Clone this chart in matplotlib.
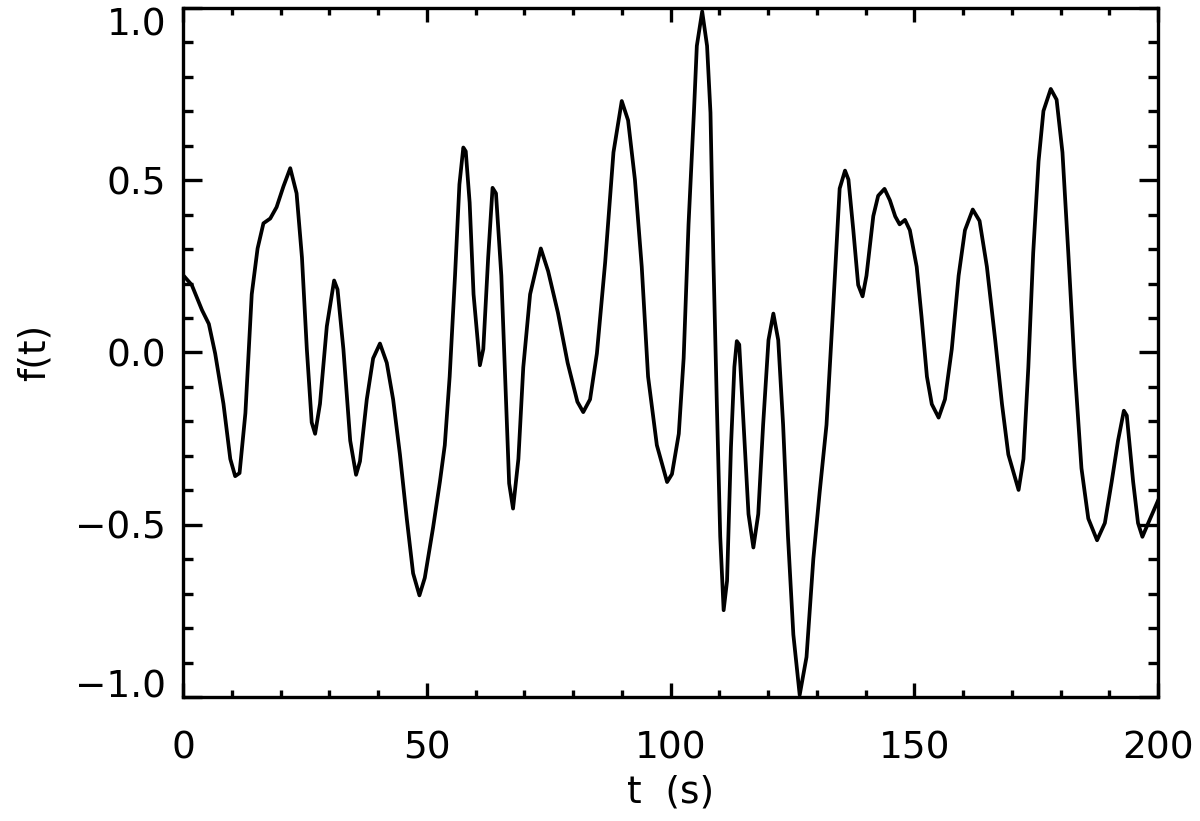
import numpy as np
import matplotlib
matplotlib.use("Agg")
import matplotlib.pyplot as plt
from matplotlib.ticker import MultipleLocator, FixedFormatter, FixedLocator

# values
t = [0.0, 1.8, 3.9, 5.3, 6.6, 8.3, 9.7, 10.7, 11.6, 12.8, 14.1, 15.3, 16.5,
     17.9, 19.2, 20.6, 22.0, 23.3, 24.4, 25.4, 26.4, 27.1, 28.1, 29.5, 31.0,
     31.7, 32.9, 34.3, 35.5, 36.3, 37.7, 39.0, 40.4, 41.8, 43.1, 44.5, 45.9,
     47.2, 48.5, 49.6, 51.3, 52.7, 53.7, 54.7, 55.8, 56.7, 57.5, 58.0, 58.8,
     59.6, 60.9, 61.6, 62.6, 63.5, 64.2, 65.3, 66.0, 66.9, 67.7, 68.8, 69.8,
     71.2, 73.4, 74.9, 76.9, 78.9, 80.9, 82.1, 83.5, 84.9, 86.6, 88.3, 90.0,
     91.3, 92.7, 94.1, 95.4, 97.2, 99.3, 100.3, 101.7, 102.7, 103.7, 104.8,
     105.4, 106.5, 107.5, 108.2, 108.8, 109.5, 110.2, 110.9, 111.6, 112.4,
     113.1, 113.6, 114.1, 115.0, 116.0, 117.0, 118.0, 119.0, 120.1, 121.1,
     122.1, 123.1, 124.1, 125.2, 126.5, 127.9, 129.3, 130.6, 132.0, 133.3,
     134.7, 135.8, 136.5, 137.5, 138.5, 139.4,
     140.2, 141.6, 142.6, 143.9, 145.0, 146.1, 147.0, 148.1, 149.1, 150.5,
     151.5, 152.6, 153.6, 155.0, 156.3, 157.7, 159.1, 160.4, 162.0, 163.4,
     164.9, 166.6, 168.0, 169.3, 171.4, 172.4, 173.4, 174.4, 175.5, 176.5,
     178.0, 179.2, 180.4, 181.6, 182.9, 184.3, 185.7, 187.5, 189.1, 190.5,
     191.8, 193.0, 193.6, 194.9, 195.9, 196.8, 198.0, 200.0]
f = [0.225, 0.196, 0.123, 0.083, -0.003, -0.149, -0.309, -0.359, -0.35,
     -0.176, 0.169, 0.302, 0.375, 0.389, 0.422, 0.482, 0.535, 0.462, 0.276,
     0.010, -0.203, -0.236, -0.149, 0.076, 0.209, 0.183, 0.010, -0.256,
     -0.355, -0.316, -0.136, -0.017, 0.026, -0.030, -0.136, -0.296, -0.482,
     -0.641, -0.705, -0.654, -0.508, -0.375, -0.269, -0.070, 0.223, 0.488,
     0.595, 0.584, 0.435, 0.169, -0.037, 0.010, 0.276, 0.478, 0.462, 0.223,
     -0.043, -0.38, -0.453, -0.309, -0.043, 0.169, 0.302, 0.236, 0.116,
     -0.030, -0.143, -0.173, -0.136, -0.003, 0.262, 0.581, 0.730, 0.674,
     0.502, 0.249, -0.070, -0.269, -0.376, -0.353, -0.236, -0.016, 0.372,
     0.696, 0.89, 0.99, 0.89, 0.696, 0.269, -0.146, -0.534, -0.748, -0.663,
     -0.275, -0.042, 0.033, 0.023, -0.210, -0.469, -0.566, -0.469, -0.210,
     0.036, 0.113, 0.036, -0.210, -0.534, -0.819, -0.994, -0.884, -0.599,
     -0.405, -0.210, 0.113, 0.476, 0.528,
     0.502, 0.355, 0.196, 0.163, 0.223, 0.396, 0.455, 0.475, 0.442, 0.395,
     0.372, 0.385, 0.355, 0.249, 0.103, -0.070, -0.150, -0.189, -0.136,
     0.010, 0.223, 0.355, 0.415, 0.382, 0.249, 0.037, -0.150, -0.296,
     -0.399, -0.309, -0.043, 0.289, 0.555, 0.701, 0.765, 0.734, 0.581,
     0.289, -0.043, -0.336, -0.482, -0.545, -0.495, -0.375, -0.256, -0.169,
     -0.183, -0.375, -0.495, -0.535, -0.495, -0.43]

xticks = [0, 50, 100, 150, 200]
xticklabels = ["0", "50", "100", "150", "200"]
yticks = [-1.0, -0.5, 0.0, 0.5, 1.0]
yticklabels = ["\u22121.0", "\u22120.5", "0.0", "0.5", "1.0"]

plt.rcParams['font.family'] = ['DejaVu Sans']
fs = 27

fig = plt.figure(figsize=(12, 8.21), dpi=100)
ax = fig.add_axes([183/1200, 1 - 697/821, 975/1200, 689/821])

ax.plot(t, f, color='black', lw=2.7, solid_joinstyle='round')

ax.set_xlim(0, 200)
ax.set_ylim(-1.0, 1.0)
ax.xaxis.set_major_locator(FixedLocator(xticks))
ax.xaxis.set_major_formatter(FixedFormatter(xticklabels))
ax.xaxis.set_minor_locator(MultipleLocator(10))
ax.yaxis.set_major_locator(FixedLocator(yticks))
ax.yaxis.set_major_formatter(FixedFormatter(yticklabels))
ax.yaxis.set_minor_locator(MultipleLocator(0.1))

for s in ax.spines.values():
    s.set_linewidth(2.4)

ax.tick_params(axis='both', which='both', direction='in', width=2.4,
               top=True, right=True, labelsize=fs, colors='black')
ax.tick_params(axis='x', which='major', length=10, pad=24)
ax.tick_params(axis='x', which='minor', length=5)
ax.tick_params(axis='y', which='major', length=14, pad=12)
ax.tick_params(axis='y', which='minor', length=7)

# keep the end labels inside the frame, like the reference
fig.canvas.draw()
ylabs = ax.get_yticklabels()
ylabs[0].set_verticalalignment('baseline')
ylabs[-1].set_verticalalignment('top')

ax.set_xlabel("t  (s)", fontsize=fs)
ax.xaxis.set_label_coords(0.5, -0.112)
ax.set_ylabel("f(t)", fontsize=fs)
ax.yaxis.set_label_coords(-0.134, 0.5)

fig.savefig("out.png", dpi=100)
